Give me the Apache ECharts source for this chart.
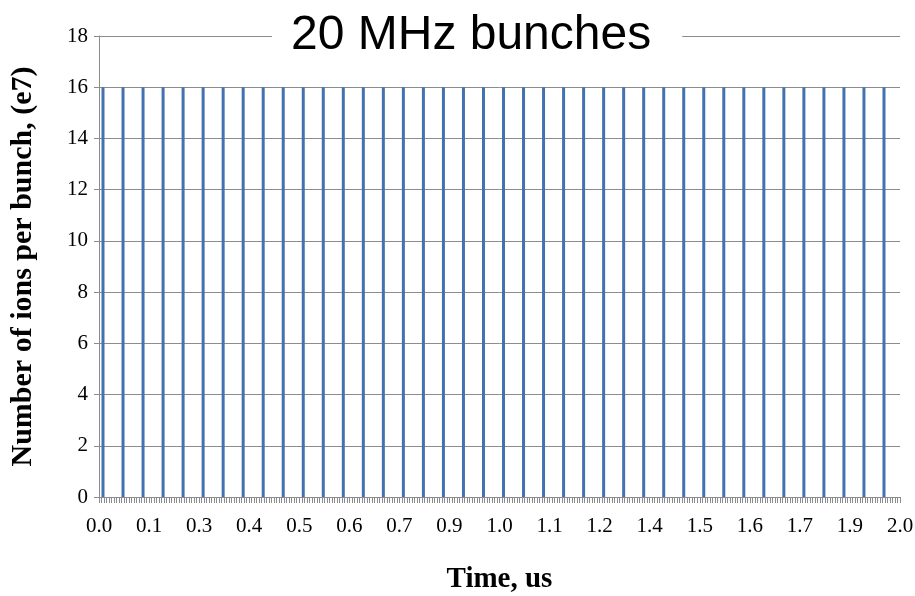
<!DOCTYPE html>
<html>
<head>
<meta charset="utf-8">
<script src="https://cdn.jsdelivr.net/npm/echarts@6/dist/echarts.min.js"></script>
<style>
html,body{margin:0;padding:0;background:#fff;}
#chart{width:915px;height:596px;}
</style>
</head>
<body>
<div id="chart"></div>
<script>
// Bunch arrival times (us)
const bunchTimes = [0.01,0.06,0.11,0.16,0.21,0.26,0.31,0.36,0.41,0.46,
                    0.51,0.56,0.61,0.66,0.71,0.76,0.81,0.86,0.91,0.96,
                    1.01,1.06,1.11,1.16,1.21,1.26,1.31,1.36,1.41,1.46,
                    1.51,1.56,1.61,1.66,1.71,1.76,1.81,1.86,1.91,1.96];
// Ions per bunch (e7)
const ionsPerBunch = [16,16,16,16,16,16,16,16,16,16,
                      16,16,16,16,16,16,16,16,16,16,
                      16,16,16,16,16,16,16,16,16,16,
                      16,16,16,16,16,16,16,16,16,16];
// X tick labels as printed (every 0.125 us)
const xTickLabels = ['0.0','0.1','0.3','0.4','0.5','0.6','0.7','0.9','1.0',
                     '1.1','1.2','1.4','1.5','1.6','1.7','1.9','2.0'];
const yTickLabels = ['0','2','4','6','8','10','12','14','16','18'];

const chart = echarts.init(document.getElementById('chart'), null, {renderer:'canvas'});
const serif = '"Liberation Serif", "DejaVu Serif", serif';
const seriesData = bunchTimes.map((t,i)=>[t, ionsPerBunch[i]]);

chart.setOption({
  animation:false,
  backgroundColor:'#fff',
  title:{
    text:'20 MHz bunches',
    left:272, top:9,
    padding:[0,31,0,19],
    backgroundColor:'#fff',
    textStyle:{fontFamily:'"Liberation Sans", Arial, sans-serif', fontSize:48, fontWeight:'normal', color:'#000', lineHeight:54}
  },
  grid:{left:99, right:15, top:36, bottom:99, containLabel:false, outerBoundsMode:'none'},
  xAxis:{
    type:'value', min:0, max:2.0, interval:0.125,
    name:'Time, us', nameLocation:'middle', nameGap:68,
    nameTextStyle:{fontFamily:serif, fontSize:29, fontWeight:'bold', color:'#000'},
    axisLine:{show:true, lineStyle:{color:'#8c8c8c', width:1}},
    axisTick:{show:true, length:6, lineStyle:{color:'#8c8c8c'}},
    minorTick:{show:true, splitNumber:20, length:6, lineStyle:{color:'#8c8c8c'}},
    splitLine:{show:false},
    axisLabel:{margin:19, fontFamily:serif, fontSize:21, color:'#000',
      formatter:function(v){ const i = Math.round(v/0.125); return xTickLabels[i] !== undefined ? xTickLabels[i] : ''; }}
  },
  yAxis:{
    type:'value', min:0, max:18, interval:2,
    name:'Number of ions per bunch, (e7)', nameLocation:'middle', nameGap:61,
    nameTextStyle:{fontFamily:serif, fontSize:30, fontWeight:'bold', color:'#000'},
    axisLine:{show:true, lineStyle:{color:'#8c8c8c', width:1}},
    axisTick:{show:true, length:5, lineStyle:{color:'#8c8c8c'}},
    splitLine:{show:true, lineStyle:{color:'#8c8c8c', width:1}},
    axisLabel:{margin:11, fontFamily:serif, fontSize:21, color:'#000',
      formatter:function(v){ const i = Math.round(v/2); return yTickLabels[i]; }}
  },
  series:[{
    type:'bar',
    data:seriesData,
    barWidth:3,
    itemStyle:{color:'#4472B0'},
    z:3
  }]
});
</script>
</body>
</html>
